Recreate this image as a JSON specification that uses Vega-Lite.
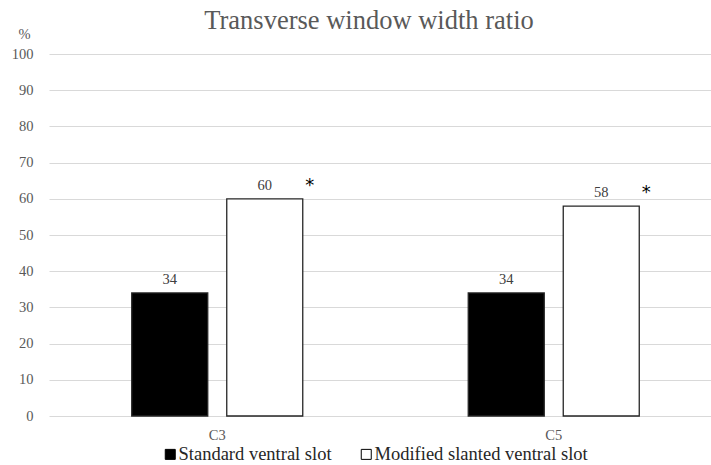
{
  "$schema": "https://vega.github.io/schema/vega-lite/v6.json",
  "autosize": "none",
  "width": 662,
  "height": 362,
  "padding": {"left": 49, "top": 54, "right": 0, "bottom": 49},
  "background": "white",
  "config": {
    "view": {"stroke": null},
    "font": "Liberation Serif",
    "legend": {"labelFont": "Liberation Serif", "labelFontSize": 18.5, "labelLimit": 0}
  },
  "title": {
    "text": "Transverse window width ratio",
    "font": "Liberation Serif",
    "fontSize": 26.5,
    "fontWeight": "normal",
    "color": "#595959",
    "anchor": "middle",
    "frame": "group",
    "dx": -11,
    "dy": 28,
    "offset": 20
  },
  "data": {
    "values": [
      {"level": "C3", "group": "Standard ventral slot", "value": 34, "sig": ""},
      {"level": "C3", "group": "Modified slanted ventral slot", "value": 60, "sig": "*"},
      {"level": "C5", "group": "Standard ventral slot", "value": 34, "sig": ""},
      {"level": "C5", "group": "Modified slanted ventral slot", "value": 58, "sig": "*"}
    ]
  },
  "encoding": {
    "x": {
      "field": "level",
      "type": "nominal",
      "scale": {"range": [0, 673], "paddingInner": 0, "paddingOuter": 0},
      "axis": {
        "title": null,
        "domain": false,
        "ticks": false,
        "labelAngle": 0,
        "labelPadding": 12,
        "labelFont": "Liberation Serif",
        "labelFontSize": 14.5,
        "labelColor": "#595959"
      }
    },
    "xOffset": {
      "field": "group",
      "type": "nominal",
      "sort": ["Standard ventral slot", "Modified slanted ventral slot"],
      "scale": {"paddingInner": 0.2, "paddingOuter": 0.871}
    },
    "y": {
      "field": "value",
      "type": "quantitative",
      "scale": {"domain": [0, 100]},
      "axis": {
        "values": [0, 10, 20, 30, 40, 50, 60, 70, 80, 90, 100],
        "domain": false,
        "ticks": false,
        "gridColor": "#d9d9d9",
        "gridWidth": 1.2,
        "labelPadding": 16,
        "labelFont": "Liberation Serif",
        "labelFontSize": 14.5,
        "labelColor": "#595959",
        "title": "%",
        "titleAngle": 0,
        "titleFont": "Liberation Serif",
        "titleFontSize": 14.5,
        "titleFontWeight": "normal",
        "titleColor": "#595959",
        "titleAlign": "center",
        "titleBaseline": "middle",
        "titleX": -25,
        "titleY": -20
      }
    }
  },
  "layer": [
    {
      "mark": {"type": "bar", "stroke": "#262626", "strokeWidth": 1.3},
      "encoding": {
        "fill": {
          "field": "group",
          "type": "nominal",
          "sort": ["Standard ventral slot", "Modified slanted ventral slot"],
          "scale": {"domain": ["Standard ventral slot", "Modified slanted ventral slot"], "range": ["#000000", "#ffffff"]},
          "legend": {
            "title": null,
            "orient": "none",
            "legendX": 112,
            "legendY": 391,
            "direction": "horizontal",
            "symbolType": "square",
            "symbolSize": 100,
            "symbolStrokeColor": "#000000",
            "symbolStrokeWidth": 1,
            "labelFont": "Liberation Serif",
            "labelFontSize": 18.5,
            "labelLimit": 0,
            "labelColor": "#262626",
            "labelOffset": -1,
            "columnPadding": 25
          }
        }
      }
    },
    {
      "mark": {"type": "text", "baseline": "bottom", "dy": -6, "font": "Liberation Serif", "fontSize": 14.5, "color": "#404040"},
      "encoding": {"text": {"field": "value", "type": "quantitative"}}
    },
    {
      "mark": {"type": "text", "baseline": "middle", "dx": 45, "dy": -13, "font": "DejaVu Sans", "fontSize": 18, "color": "#000000"},
      "encoding": {"text": {"field": "sig", "type": "nominal"}}
    }
  ]
}
